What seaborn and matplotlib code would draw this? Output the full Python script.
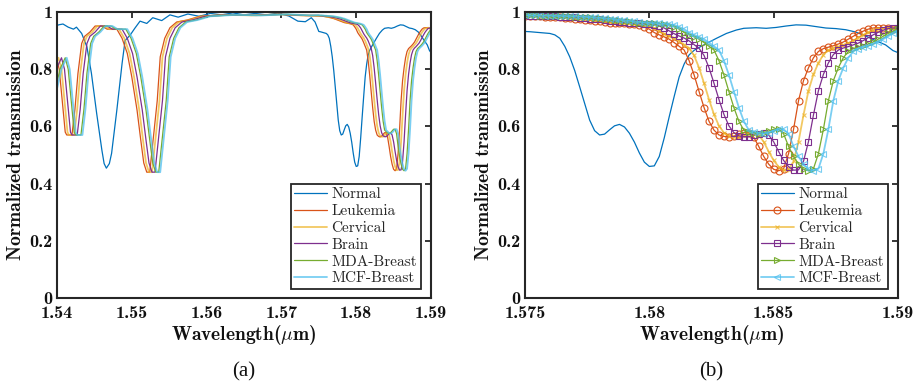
import numpy as np
import matplotlib
matplotlib.use("Agg")
import matplotlib.pyplot as plt
import seaborn as sns

# ---------------- data ----------------
SERIES = ["Normal", "Leukemia", "Cervical", "Brain", "MDA-Breast", "MCF-Breast"]
COLORS = ["#0072BD", "#D95319", "#EDB120", "#7E2F8E", "#77AC30", "#4DBEEE"]

NORMAL_WL = [1.5400, 1.5402, 1.5408, 1.5415, 1.5422, 1.5426, 1.5433, 1.5440, 1.5446, 1.5453,
             1.5460, 1.5463, 1.5466, 1.5470, 1.5473, 1.5480, 1.5487, 1.5491, 1.5498, 1.5504,
             1.5511, 1.5520, 1.5528, 1.5540, 1.5551, 1.5562, 1.5575, 1.5590, 1.5605, 1.5620,
             1.5635, 1.5650, 1.5665, 1.5680, 1.5695, 1.5710, 1.5722, 1.5732, 1.5740, 1.5745,
             1.5750, 1.5752, 1.5756, 1.5760, 1.5762, 1.5764, 1.5766, 1.5768, 1.5770, 1.5772,
             1.5774, 1.5776, 1.5778, 1.5780, 1.5782, 1.5784, 1.5786, 1.5788, 1.5790, 1.5792,
             1.5794, 1.5796, 1.5798, 1.5800, 1.5802, 1.5804, 1.5806, 1.5808, 1.5810, 1.5812,
             1.5814, 1.5816, 1.5818, 1.5820, 1.5823, 1.5827, 1.5831, 1.5835, 1.5838, 1.5843,
             1.5847, 1.5851, 1.5855, 1.5859, 1.5863, 1.5867, 1.5871, 1.5875, 1.5879, 1.5883,
             1.5887, 1.5891, 1.5895, 1.5898, 1.5900]
NORMAL_T = [0.952, 0.955, 0.958, 0.947, 0.940, 0.947, 0.925, 0.878, 0.786, 0.646,
            0.517, 0.470, 0.454, 0.470, 0.506, 0.657, 0.820, 0.900, 0.920, 0.943,
            0.968, 0.960, 0.980, 0.970, 0.990, 0.982, 0.993, 0.985, 0.995, 0.990,
            0.997, 0.990, 0.995, 0.990, 0.996, 0.986, 0.968, 0.966, 0.980, 0.965,
            0.932, 0.931, 0.928, 0.925, 0.920, 0.908, 0.880, 0.843, 0.795, 0.738,
            0.680, 0.622, 0.585, 0.570, 0.573, 0.588, 0.602, 0.607, 0.598, 0.576,
            0.545, 0.507, 0.475, 0.460, 0.462, 0.495, 0.560, 0.634, 0.705, 0.773,
            0.818, 0.850, 0.866, 0.876, 0.890, 0.908, 0.925, 0.937, 0.943, 0.945,
            0.943, 0.946, 0.951, 0.955, 0.954, 0.949, 0.944, 0.942, 0.938, 0.930,
            0.916, 0.900, 0.885, 0.865, 0.858]

# cancer curves, short-wavelength part (1.538 - 1.575): own wavelengths, common levels
LEFT_T = [0.72, 0.80, 0.84, 0.80, 0.69, 0.58, 0.57, 0.57, 0.66, 0.785,
          0.89, 0.915, 0.93, 0.951, 0.951, 0.94, 0.94, 0.908, 0.855, 0.773,
          0.657, 0.552, 0.472, 0.44, 0.44, 0.54, 0.69, 0.843, 0.908, 0.945,
          0.965, 0.972, 0.985, 0.99, 0.988, 0.992, 0.988]
LEUK_WL_L = [1.5385, 1.5392, 1.5399, 1.5403, 1.5407, 1.5411, 1.5413, 1.5420, 1.5424, 1.5428,
             1.5433, 1.5437, 1.5444, 1.5451, 1.5460, 1.5467, 1.5480, 1.5487, 1.5494, 1.5500,
             1.5507, 1.5512, 1.5516, 1.5520, 1.5524, 1.5528, 1.5534, 1.5538, 1.5544, 1.5551,
             1.5560, 1.5574, 1.5591, 1.5625, 1.5660, 1.5695, 1.5725]
CERV_WL_L = [1.5388, 1.5395, 1.5402, 1.5406, 1.5410, 1.5414, 1.5416, 1.5423, 1.5427, 1.5431,
             1.5436, 1.5440, 1.5447, 1.5454, 1.5463, 1.5470, 1.5483, 1.5490, 1.5497, 1.5503,
             1.5510, 1.5515, 1.5519, 1.5523, 1.5527, 1.5531, 1.5537, 1.5541, 1.5547, 1.5554,
             1.5563, 1.5577, 1.5594, 1.5628, 1.5663, 1.5698, 1.5728]
BRAIN_WL_L = [1.5392, 1.5399, 1.5406, 1.5410, 1.5414, 1.5418, 1.5420, 1.5427, 1.5431, 1.5435,
              1.5440, 1.5444, 1.5451, 1.5458, 1.5467, 1.5474, 1.5487, 1.5494, 1.5501, 1.5507,
              1.5514, 1.5519, 1.5523, 1.5527, 1.5531, 1.5535, 1.5541, 1.5545, 1.5551, 1.5558,
              1.5567, 1.5581, 1.5598, 1.5632, 1.5667, 1.5702, 1.5732]
MDA_WL_L = [1.5397, 1.5404, 1.5411, 1.5415, 1.5419, 1.5423, 1.5425, 1.5432, 1.5436, 1.5440,
            1.5445, 1.5449, 1.5456, 1.5463, 1.5472, 1.5479, 1.5492, 1.5499, 1.5506, 1.5512,
            1.5519, 1.5524, 1.5528, 1.5532, 1.5536, 1.5540, 1.5546, 1.5550, 1.5556, 1.5563,
            1.5572, 1.5586, 1.5603, 1.5637, 1.5672, 1.5707, 1.5737]
MCF_WL_L = [1.5399, 1.5406, 1.5413, 1.5417, 1.5421, 1.5425, 1.5427, 1.5434, 1.5438, 1.5442,
            1.5447, 1.5451, 1.5458, 1.5465, 1.5474, 1.5481, 1.5494, 1.5501, 1.5508, 1.5514,
            1.5521, 1.5526, 1.5530, 1.5534, 1.5538, 1.5542, 1.5548, 1.5552, 1.5558, 1.5565,
            1.5574, 1.5588, 1.5605, 1.5639, 1.5674, 1.5709, 1.5739]

# cancer curves, sampled wavelengths 1.575 - 1.590 (markers in panel b)
GRID_WL = [1.5750, 1.5752, 1.5754, 1.5756, 1.5758, 1.5760, 1.5762, 1.5764, 1.5766, 1.5768,
           1.5770, 1.5772, 1.5774, 1.5776, 1.5778, 1.5780, 1.5782, 1.5784, 1.5786, 1.5788,
           1.5790, 1.5792, 1.5794, 1.5796, 1.5798, 1.5800, 1.5802, 1.5804, 1.5806, 1.5808,
           1.5810, 1.5812, 1.5814, 1.5816, 1.5818, 1.5820, 1.5822, 1.5824, 1.5826, 1.5828,
           1.5830, 1.5832, 1.5834, 1.5836, 1.5838, 1.5840, 1.5842, 1.5844, 1.5846, 1.5848,
           1.5850, 1.5852, 1.5854, 1.5856, 1.5858, 1.5860, 1.5862, 1.5864, 1.5866, 1.5868,
           1.5870, 1.5872, 1.5874, 1.5876, 1.5878, 1.5880, 1.5882, 1.5884, 1.5886, 1.5888,
           1.5890, 1.5892, 1.5894, 1.5896, 1.5898, 1.5900]
LEUK_R = [0.986, 0.986, 0.985, 0.985, 0.984, 0.983, 0.982, 0.981, 0.980, 0.978,
          0.977, 0.975, 0.973, 0.971, 0.969, 0.967, 0.965, 0.963, 0.962, 0.961,
          0.960, 0.959, 0.957, 0.955, 0.948, 0.940, 0.928, 0.920, 0.913, 0.905,
          0.893, 0.880, 0.867, 0.830, 0.780, 0.722, 0.666, 0.618, 0.587, 0.570,
          0.565, 0.563, 0.566, 0.572, 0.578, 0.578, 0.562, 0.530, 0.495, 0.468,
          0.450, 0.445, 0.452, 0.505, 0.590, 0.690, 0.760, 0.805, 0.840, 0.862,
          0.872, 0.877, 0.882, 0.888, 0.895, 0.905, 0.915, 0.925, 0.933, 0.940,
          0.944, 0.945, 0.945, 0.944, 0.942, 0.940]
CERV_R = [0.987, 0.986, 0.986, 0.986, 0.985, 0.984, 0.983, 0.982, 0.981, 0.980,
          0.979, 0.977, 0.976, 0.974, 0.972, 0.970, 0.968, 0.966, 0.964, 0.962,
          0.961, 0.960, 0.959, 0.958, 0.956, 0.951, 0.944, 0.934, 0.924, 0.916,
          0.909, 0.899, 0.886, 0.873, 0.848, 0.805, 0.751, 0.694, 0.642, 0.602,
          0.578, 0.567, 0.564, 0.564, 0.569, 0.575, 0.578, 0.570, 0.546, 0.512,
          0.481, 0.459, 0.447, 0.448, 0.478, 0.547, 0.640, 0.725, 0.782, 0.822,
          0.851, 0.867, 0.874, 0.879, 0.885, 0.891, 0.900, 0.910, 0.920, 0.929,
          0.936, 0.942, 0.944, 0.945, 0.944, 0.943]
BRAIN_R = [0.988, 0.987, 0.987, 0.986, 0.986, 0.986, 0.985, 0.984, 0.983, 0.982,
           0.981, 0.980, 0.979, 0.977, 0.976, 0.974, 0.972, 0.970, 0.968, 0.966,
           0.964, 0.962, 0.961, 0.960, 0.959, 0.958, 0.956, 0.951, 0.944, 0.934,
           0.924, 0.916, 0.909, 0.899, 0.886, 0.873, 0.848, 0.805, 0.751, 0.694,
           0.642, 0.602, 0.578, 0.567, 0.564, 0.564, 0.569, 0.575, 0.578, 0.570,
           0.546, 0.512, 0.481, 0.459, 0.447, 0.448, 0.478, 0.547, 0.640, 0.725,
           0.782, 0.822, 0.851, 0.867, 0.874, 0.879, 0.885, 0.891, 0.900, 0.910,
           0.920, 0.929, 0.936, 0.942, 0.944, 0.945]
MDA_R = [0.988, 0.988, 0.988, 0.987, 0.987, 0.986,
         0.986, 0.986, 0.985, 0.985, 0.984, 0.983, 0.982, 0.981, 0.980, 0.978,
         0.977, 0.975, 0.973, 0.971, 0.969, 0.967, 0.965, 0.963, 0.962, 0.961,
         0.960, 0.959, 0.957, 0.955, 0.948, 0.940, 0.928, 0.920, 0.913, 0.905,
         0.893, 0.880, 0.867, 0.830, 0.780, 0.722, 0.666, 0.618,
         0.587, 0.582, 0.577, 0.575, 0.578, 0.584, 0.590, 0.590, 0.574,
         0.530, 0.495, 0.468, 0.450, 0.445, 0.452, 0.505, 0.590, 0.690, 0.760,
         0.805, 0.840, 0.862, 0.872, 0.877, 0.882, 0.888, 0.895, 0.905, 0.915,
         0.925, 0.933, 0.940]
MCF_R = [0.989, 0.988, 0.988, 0.988, 0.987, 0.987, 0.986,
         0.986, 0.986, 0.985, 0.985, 0.984, 0.983, 0.982, 0.981, 0.980, 0.978,
         0.977, 0.975, 0.973, 0.971, 0.969, 0.967, 0.965, 0.963, 0.962, 0.961,
         0.960, 0.959, 0.957, 0.955, 0.948, 0.940, 0.928, 0.920, 0.913, 0.905,
         0.893, 0.880, 0.867, 0.830, 0.780, 0.722, 0.666, 0.618,
         0.587, 0.582, 0.577, 0.575, 0.578, 0.584, 0.590, 0.590, 0.574,
         0.530, 0.495, 0.468, 0.450, 0.445, 0.452, 0.505, 0.590, 0.690, 0.760,
         0.805, 0.840, 0.862, 0.872, 0.877, 0.882, 0.888, 0.895, 0.905, 0.915,
         0.925, 0.933]

LEFT_WLS = [LEUK_WL_L, CERV_WL_L, BRAIN_WL_L, MDA_WL_L, MCF_WL_L]
RIGHT_TS = [LEUK_R, CERV_R, BRAIN_R, MDA_R, MCF_R]

Y_TICKS = [0, 0.2, 0.4, 0.6, 0.8, 1.0]
Y_TICKLABELS = ["0", "0.2", "0.4", "0.6", "0.8", "1"]
XA_TICKS = [1.54, 1.55, 1.56, 1.57, 1.58, 1.59]
XA_TICKLABELS = ["1.54", "1.55", "1.56", "1.57", "1.58", "1.59"]
XB_TICKS = [1.575, 1.58, 1.585, 1.59]
XB_TICKLABELS = ["1.575", "1.58", "1.585", "1.59"]

# ---------------- style ----------------
sns.set_theme(style="white")
plt.rcParams.update({
    "font.family": ["cmb10", "DejaVu Serif"],
    "mathtext.fontset": "cm",
    "axes.unicode_minus": False,
    "axes.formatter.use_mathtext": True,
})

W, H = 921, 391
fig = plt.figure(figsize=(W / 100, H / 100), dpi=100)
axA = fig.add_axes([57 / W, 93 / H, 374 / W, 286 / H])
axB = fig.add_axes([525 / W, 93 / H, 373 / W, 286 / H])

LW = [0.9, 0.9, 1.3, 0.9, 0.9, 1.3]
ALPHA = [1, 1, 0.7, 1, 1, 0.75]
MARKERS = [None, "o", "x", "s", ">", "<"]
MSIZE = [0, 5.0, 3.2, 3.8, 4.6, 4.6]

# panel (a)
sns.lineplot(x=NORMAL_WL, y=NORMAL_T, ax=axA, color=COLORS[0], lw=LW[0], label=SERIES[0],
             estimator=None, sort=False)
for k in range(5):
    xs = list(LEFT_WLS[k]) + list(GRID_WL)
    ys = list(LEFT_T) + list(RIGHT_TS[k])
    sns.lineplot(x=xs, y=ys, ax=axA, color=COLORS[k + 1], lw=LW[k + 1], alpha=ALPHA[k + 1],
                 label=SERIES[k + 1], estimator=None, sort=False)

# panel (b)
sns.lineplot(x=NORMAL_WL, y=NORMAL_T, ax=axB, color=COLORS[0], lw=LW[0], label=SERIES[0],
             estimator=None, sort=False)
for k in range(5):
    sns.lineplot(x=GRID_WL, y=RIGHT_TS[k], ax=axB, color=COLORS[k + 1], lw=LW[k + 1],
                 alpha=ALPHA[k + 1] if k in (1, 4) else 1, label=SERIES[k + 1],
                 marker=MARKERS[k + 1], markersize=MSIZE[k + 1], markerfacecolor="none",
                 markeredgecolor=COLORS[k + 1], markeredgewidth=0.8,
                 estimator=None, sort=False)

for ax, xt, xtl, xl in [(axA, XA_TICKS, XA_TICKLABELS, (1.54, 1.59)),
                        (axB, XB_TICKS, XB_TICKLABELS, (1.575, 1.59))]:
    ax.set_xlim(*xl)
    ax.set_ylim(0, 1)
    ax.set_xticks(xt)
    ax.set_xticklabels(xtl)
    ax.set_yticks(Y_TICKS)
    ax.set_yticklabels(Y_TICKLABELS)
    ax.tick_params(direction="in", length=4.5, width=1.3, top=True, right=True,
                   labelsize=13, colors="#262626")
    ax.tick_params(axis="x", pad=6)
    ax.tick_params(axis="y", pad=3)
    for lab in ax.get_xticklabels() + ax.get_yticklabels():
        lab.set_color("#111111")
    for sp in ax.spines.values():
        sp.set_linewidth(1.5)
        sp.set_color("#262626")
    ax.set_xlabel(r"Wavelength($\mu$m)", fontsize=14, labelpad=1, color="#111111")
    ax.set_ylabel("Normalized transmission", fontsize=14, labelpad=3, color="#111111")
    ax.grid(False)
    h, l = ax.get_legend_handles_labels()
    leg = ax.legend(h, l, loc="lower right", bbox_to_anchor=(0.972, 0.031), borderaxespad=0,
                    prop={"family": "cmr10", "size": 11}, frameon=True, fancybox=False,
                    framealpha=1, edgecolor="#262626", handlelength=2.1, handletextpad=0.3,
                    labelspacing=0.2, borderpad=0.25, numpoints=1)
    leg.get_frame().set_linewidth(1.3)

fig.text(244 / W, 1 - 372 / H, "(a)", ha="center", va="center",
         fontfamily="Liberation Serif", fontsize=15, color="#111111")
fig.text(711 / W, 1 - 372 / H, "(b)", ha="center", va="center",
         fontfamily="Liberation Serif", fontsize=15, color="#111111")

fig.savefig("out.png", dpi=100)
